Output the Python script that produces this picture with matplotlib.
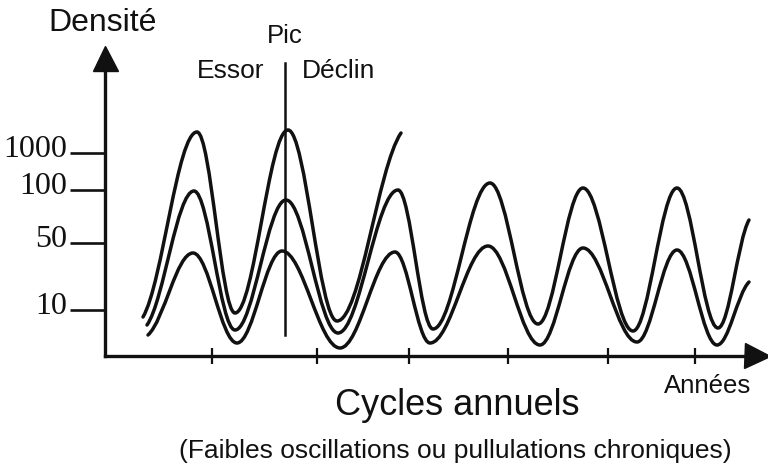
import matplotlib
matplotlib.use("Agg")
import matplotlib.pyplot as plt
from matplotlib.path import Path
from matplotlib.patches import PathPatch
from matplotlib.transforms import ScaledTranslation

# Schematic units: about 1 unit per pixel, measured from the axes corner.
# Each curve is given by its turning points (troughs / peaks).
high_x = [38, 92, 130, 183, 232, 296]
high_y = [39, 224, 43, 226, 35, 223]

mid_x = [42, 89, 130, 181, 233, 293, 328, 385, 433, 478, 528, 572, 613, 644]
mid_y = [31, 165, 26, 156, 23, 166, 27, 173, 32, 168, 25, 168, 28, 136]

low_x = [43, 88, 132, 177, 235, 290, 325, 383, 435, 478, 532, 572, 612, 644]
low_y = [21, 103, 13, 105, 8, 104, 13, 110, 11, 108, 14, 106, 11, 74]

density_ticks = [46, 113, 166, 203]
density_labels = ["10", "50", "100", "1000"]
year_ticks = [107, 212, 304, 403, 503, 590]

peak_x = 180
peak_line_y = [21, 293]

INK = "#111111"
plt.rcParams['font.family'] = ['Liberation Sans', 'DejaVu Sans']


def wave_path(xs, ys, k=0.364):
    """Smooth cubic path through the turning points (flat tangent at each one)."""
    verts = [(xs[0], ys[0])]
    codes = [Path.MOVETO]
    n = len(xs)
    for i in range(n - 1):
        x0, y0, x1, y1 = xs[i], ys[i], xs[i + 1], ys[i + 1]
        dx, dy = x1 - x0, y1 - y0
        # loose ends lean a bit along the chord
        c1 = (x0 + k * dx, y0 + (0.5 * k * dy if i == 0 else 0))
        c2 = (x1 - k * dx, y1 - (0.5 * k * dy if i == n - 2 else 0))
        verts += [c1, c2, (x1, y1)]
        codes += [Path.CURVE4] * 3
    return Path(verts, codes)


fig = plt.figure(figsize=(7.68, 4.67), dpi=100)
ax = fig.add_axes([105 / 768, 111 / 467, 652 / 768, 298 / 467])
ax.set_xlim(0, 652)
ax.set_ylim(0, 298)

for xs, ys in [(high_x, high_y), (mid_x, mid_y), (low_x, low_y)]:
    ax.add_patch(PathPatch(wave_path(xs, ys), fill=False, edgecolor=INK,
                           lw=2.5, capstyle='round', clip_on=False))

# "Pic" marker line
ax.plot([peak_x, peak_x], peak_line_y, color=INK, lw=1.8, clip_on=False)

# axes as arrows
for side in ['top', 'right']:
    ax.spines[side].set_visible(False)
for side in ['left', 'bottom']:
    ax.spines[side].set_linewidth(2.4)
    ax.spines[side].set_color(INK)
ax.plot(1, 0, '>', ms=18, color=INK, transform=ax.transAxes, clip_on=False)
ax.plot(0, 1, '^', ms=18, color=INK, transform=ax.transAxes, clip_on=False)

ax.set_xticks(year_ticks)
ax.set_xticklabels([])
ax.tick_params(axis='x', direction='inout', length=11, width=1.6, color=INK)

ax.set_yticks(density_ticks, labels=density_labels)
ax.tick_params(axis='y', direction='out', length=25, width=1.9, pad=2,
               color=INK, labelsize=23, labelcolor=INK)
shift = ScaledTranslation(0, -0.04, fig.dpi_scale_trans)
for lab in ax.get_yticklabels():
    lab.set_family('Liberation Serif')
    lab.set_va('baseline')
    lab.set_transform(lab.get_transform() + shift)

# annotations
txt = dict(color="#111111", ha='center', va='baseline', clip_on=False)
ax.text(-2, 325, "Densité", fontsize=23, **txt)
ax.text(peak_x, 313, "Pic", fontsize=18.5, **txt)
ax.text(126, 278, "Essor", fontsize=19, **txt)
ax.text(234, 278, "Déclin", fontsize=19, **txt)
ax.text(603, -37, "Années", fontsize=18.5, **txt)
ax.text(352, -59, "Cycles annuels", fontsize=26, **txt)
ax.text(350, -102, "(Faibles oscillations ou pullulations chroniques)", fontsize=19, **txt)

fig.savefig("out.png", dpi=100)
